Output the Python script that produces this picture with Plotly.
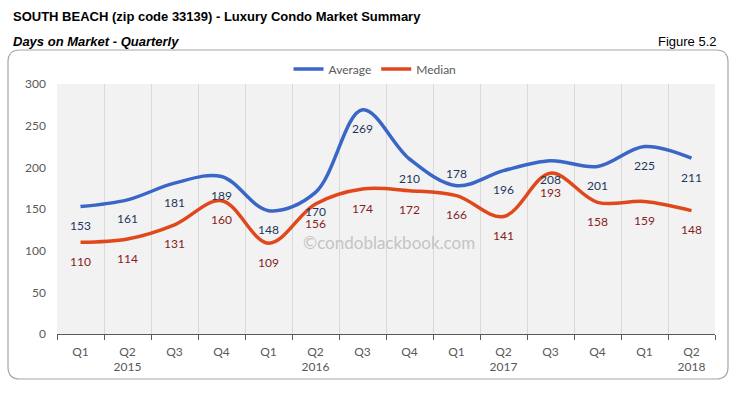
import plotly.graph_objects as go

quarters = ["Q1", "Q2", "Q3", "Q4", "Q1", "Q2", "Q3", "Q4", "Q1", "Q2", "Q3", "Q4", "Q1", "Q2"]
years = ["", "2015", "", "", "", "2016", "", "", "", "2017", "", "", "", "2018"]
average = [153, 161, 181, 189, 148, 170, 269, 210, 178, 196, 208, 201, 225, 211]
median = [110, 114, 131, 160, 109, 156, 174, 172, 166, 141, 193, 158, 159, 148]

cats = [f"{q}_{i}" for i, q in enumerate(quarters)]
ticktext = [q if not y else f"{q}<br>{y}" for q, y in zip(quarters, years)]

W, H = 743, 393
L, R, T, B = 57, 715, 84, 334


def px2x(px):
    return (px - L) / (R - L)


def py2y(py):
    return (B - py) / (B - T)


BLUE = "#3A67C7"
RED = "#E0481C"
NAVY = "#1F3560"
DRED = "#861C1C"
GRAYTXT = "#595959"
FONT = "Lato, 'Open Sans', sans-serif"
NARROW = "'Liberation Sans Narrow', 'Arial Narrow', 'Liberation Sans', sans-serif"

# label placement: average label for Q1 2017 sits above its point in the reference
avg_label_above = {8}

fig = go.Figure()
fig.add_trace(go.Scatter(x=cats, y=average, name="Average", mode="lines",
                         line=dict(color=BLUE, width=3.5, shape="spline", smoothing=1.0)))
fig.add_trace(go.Scatter(x=cats, y=median, name="Median", mode="lines",
                         line=dict(color=RED, width=3.5, shape="spline", smoothing=1.0)))

annotations = []
for i, (c, v) in enumerate(zip(cats, average)):
    annotations.append(dict(x=c, y=v, xref="x", yref="y", text=str(v), showarrow=False,
                            yshift=12 if i in avg_label_above else -19,
                            font=dict(family=FONT, size=12, color=NAVY)))
for c, v in zip(cats, median):
    annotations.append(dict(x=c, y=v, xref="x", yref="y", text=str(v), showarrow=False,
                            yshift=-19, font=dict(family=FONT, size=12, color=DRED)))

annotations += [
    dict(xref="paper", yref="paper", x=px2x(11), y=py2y(16), xanchor="left", yanchor="middle",
         text="<b>SOUTH BEACH (zip code 33139) - Luxury Condo Market Summary</b>", showarrow=False,
         font=dict(family=NARROW, size=13, color="#000000")),
    dict(xref="paper", yref="paper", x=px2x(11), y=py2y(41), xanchor="left", yanchor="middle",
         text="<b><i>Days on Market - Quarterly</i></b>", showarrow=False,
         font=dict(family=NARROW, size=13, color="#000000")),
    dict(xref="paper", yref="paper", x=px2x(719), y=py2y(41), xanchor="right", yanchor="middle",
         text="Figure 5.2", showarrow=False,
         font=dict(family=NARROW, size=13, color="#000000")),
    dict(xref="paper", yref="paper", x=px2x(389), y=py2y(242), xanchor="center", yanchor="middle",
         text="©condoblackbook.com", showarrow=False,
         font=dict(family=FONT, size=17, color="#C4C4C4")),
]

# rounded chart border
x0, x1, y0, y1, r = 8, 728, 50, 379, 12
pts = [
    ("M", (x0 + r, y0)), ("L", (x1 - r, y0)), ("Q", (x1, y0), (x1, y0 + r)),
    ("L", (x1, y1 - r)), ("Q", (x1, y1), (x1 - r, y1)), ("L", (x0 + r, y1)),
    ("Q", (x0, y1), (x0, y1 - r)), ("L", (x0, y0 + r)), ("Q", (x0, y0), (x0 + r, y0)),
]
path = ""
for item in pts:
    cmd = item[0]
    coords = " ".join(f"{px2x(p[0]):.5f},{py2y(p[1]):.5f}" for p in item[1:])
    path += f"{cmd}{coords} "
path += "Z"

fig.update_layout(
    width=W, height=H,
    margin=dict(l=L, r=W - R, t=T, b=H - B),
    paper_bgcolor="white",
    plot_bgcolor="#F2F2F2",
    font=dict(family=FONT, size=12, color=GRAYTXT),
    showlegend=True,
    legend=dict(orientation="h", x=px2x(375), xanchor="center", y=py2y(69), yanchor="middle",
                font=dict(family=FONT, size=12, color=GRAYTXT), itemwidth=30,
                bgcolor="rgba(0,0,0,0)"),
    annotations=annotations,
    shapes=[dict(type="path", xref="paper", yref="paper", path=path,
                 line=dict(color="#A6A6A6", width=1.2), fillcolor="rgba(0,0,0,0)", layer="below")],
    xaxis=dict(type="category", categoryorder="array", categoryarray=cats,
               range=[-0.5, len(cats) - 0.5],
               tickmode="array", tickvals=cats, ticktext=ticktext,
               tickson="boundaries", showgrid=True, gridcolor="#D9D9D9", gridwidth=1,
               ticks="outside", ticklen=5, tickcolor=GRAYTXT, ticklabelstandoff=6,
               showline=True, linecolor=GRAYTXT, linewidth=1.2,
               tickfont=dict(family=FONT, size=12, color=GRAYTXT), zeroline=False),
    yaxis=dict(range=[0, 300], dtick=50, showgrid=False, zeroline=False, showline=False,
               ticks="", ticklabelstandoff=10,
               tickfont=dict(family=FONT, size=12, color=GRAYTXT)),
)

fig.write_html("out.html", config={"displayModeBar": False},
               post_script="document.body.style.margin='0';")
